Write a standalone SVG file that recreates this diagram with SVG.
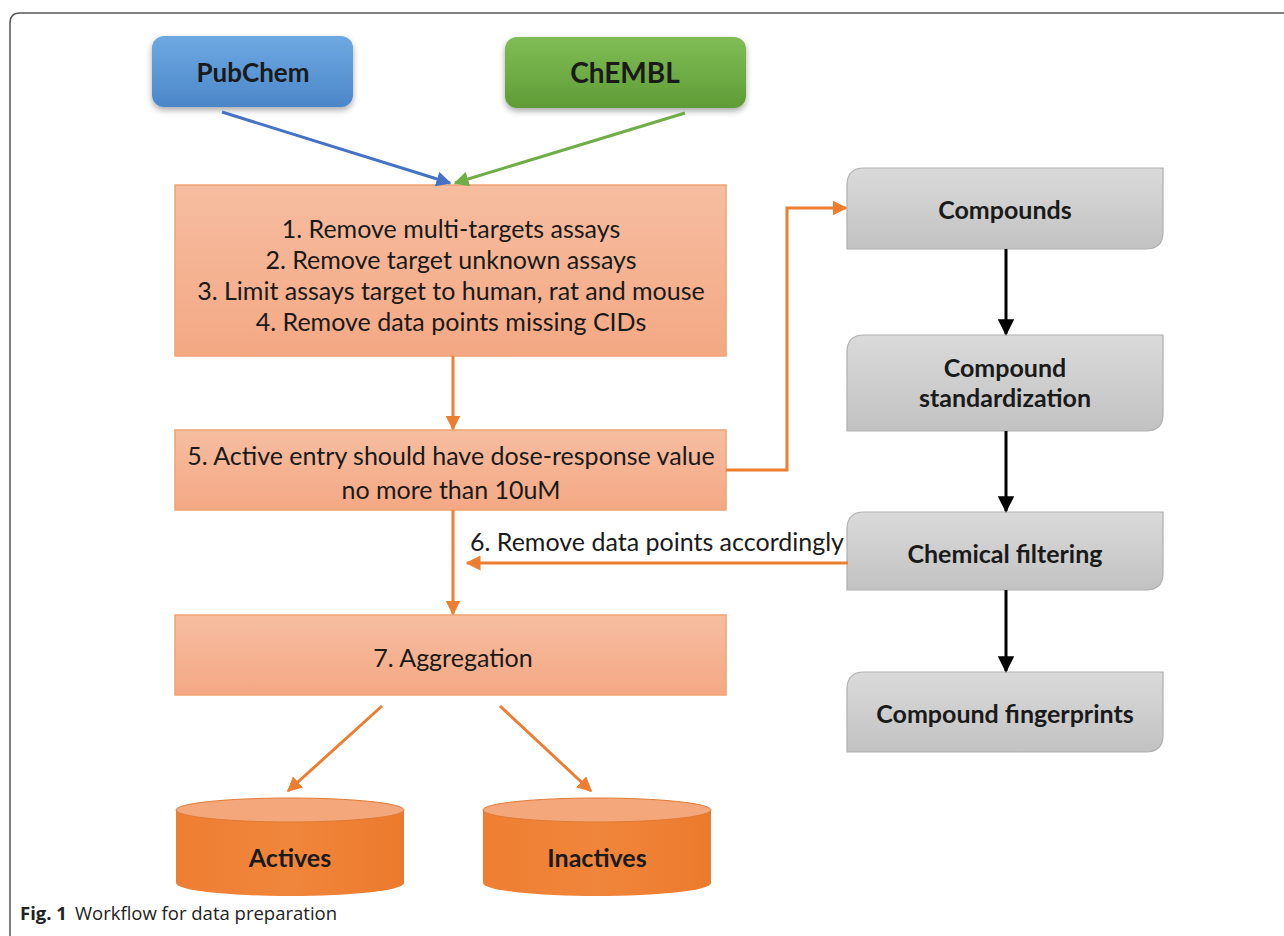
<svg xmlns="http://www.w3.org/2000/svg" width="1284" height="936" viewBox="0 0 1284 936">
<defs>
<linearGradient id="gBlue" x1="0" y1="0" x2="0" y2="1"><stop offset="0" stop-color="#6ea9e2"/><stop offset="1" stop-color="#4b87c9"/></linearGradient>
<linearGradient id="gGreen" x1="0" y1="0" x2="0" y2="1"><stop offset="0" stop-color="#80bd55"/><stop offset="1" stop-color="#5f9c36"/></linearGradient>
<linearGradient id="gSalmon" x1="0" y1="0" x2="0" y2="1"><stop offset="0" stop-color="#f6bda0"/><stop offset="1" stop-color="#f4a884"/></linearGradient>
<linearGradient id="gGrey" x1="0" y1="0" x2="0" y2="1"><stop offset="0" stop-color="#dadada"/><stop offset="1" stop-color="#c2c2c2"/></linearGradient>
<linearGradient id="gCyl" x1="0" y1="0" x2="1" y2="0"><stop offset="0" stop-color="#ee7e32"/><stop offset="0.5" stop-color="#f0863b"/><stop offset="1" stop-color="#ec7a2d"/></linearGradient>
<filter id="shadow" x="-10%" y="-10%" width="120%" height="140%"><feGaussianBlur in="SourceAlpha" stdDeviation="3"/><feOffset dy="3"/><feComponentTransfer><feFuncA type="linear" slope="0.35"/></feComponentTransfer><feMerge><feMergeNode/><feMergeNode in="SourceGraphic"/></feMerge></filter>
<marker id="aOr" viewBox="0 0 10 10" refX="9" refY="5" markerWidth="5" markerHeight="5" markerUnits="strokeWidth" orient="auto"><path d="M0,0 L10,5 L0,10 z" fill="#ed7d31"/></marker>
<marker id="aBk" viewBox="0 0 10 10" refX="9" refY="5" markerWidth="5.5" markerHeight="5.5" markerUnits="strokeWidth" orient="auto"><path d="M0,0 L10,5 L0,10 z" fill="#000"/></marker>
<marker id="aBl" viewBox="0 0 10 10" refX="9" refY="5" markerWidth="5" markerHeight="5" markerUnits="strokeWidth" orient="auto"><path d="M0,0 L10,5 L0,10 z" fill="#4472c4"/></marker>
<marker id="aGr" viewBox="0 0 10 10" refX="9" refY="5" markerWidth="5" markerHeight="5" markerUnits="strokeWidth" orient="auto"><path d="M0,0 L10,5 L0,10 z" fill="#70ad47"/></marker>
</defs>
<style>
.t{font-family:Lato,"Liberation Sans",sans-serif;fill:#1a1a1a;text-anchor:middle;dominant-baseline:central;font-size:25px}
.b{font-weight:bold}
.salmon{fill:url(#gSalmon);stroke:#f0a273;stroke-width:1.5}
.grey{fill:url(#gGrey);stroke:#b0b0b0;stroke-width:1.2}
.oc{stroke:#ed7d31;stroke-width:3;fill:none;marker-end:url(#aOr)}
.bc{stroke:#000;stroke-width:3;fill:none;marker-end:url(#aBk)}
</style>
<rect width="1284" height="936" fill="#fff"/>
<path d="M10,945 V23 Q10,13 20,13 H1290" fill="none" stroke="#555" stroke-width="1.5"/>

<g id="pubchem"><rect x="152" y="36" width="201" height="71" rx="12" fill="url(#gBlue)" filter="url(#shadow)"/><text class="t b" x="253" y="72" style="font-size:26px">PubChem</text></g>
<g id="chembl"><rect x="505" y="37" width="241" height="71" rx="12" fill="url(#gGreen)" filter="url(#shadow)"/><text class="t b" x="625" y="72" style="font-size:28px">ChEMBL</text></g>

<g id="step1-4"><rect class="salmon" x="175" y="185" width="551" height="171"/>
<text class="t" x="451" y="228">1. Remove multi-targets assays</text>
<text class="t" x="451" y="259">2. Remove target unknown assays</text>
<text class="t" x="451" y="290">3. Limit assays target to human, rat and mouse</text>
<text class="t" x="451" y="321">4. Remove data points missing CIDs</text></g>

<g id="step5"><rect class="salmon" x="175" y="430" width="551" height="80"/>
<text class="t" x="451" y="455">5. Active entry should have dose-response value</text>
<text class="t" x="451" y="489">no more than 10uM</text></g>

<g id="step7"><rect class="salmon" x="175" y="615" width="551" height="80"/>
<text class="t" x="453" y="657">7. Aggregation</text></g>

<g id="compounds"><path class="grey" d="M864,168 H1163 V232 Q1163,249 1146,249 H847 V185 Q847,168 864,168 Z"/><text class="t b" x="1005" y="209">Compounds</text></g>
<g id="standardization"><path class="grey" d="M864,335 H1163 V414 Q1163,431 1146,431 H847 V352 Q847,335 864,335 Z"/><text class="t b" x="1005" y="367">Compound</text><text class="t b" x="1005" y="397">standardization</text></g>
<g id="filtering"><path class="grey" d="M864,512 H1163 V573 Q1163,590 1146,590 H847 V529 Q847,512 864,512 Z"/><text class="t b" x="1005" y="553">Chemical filtering</text></g>
<g id="fingerprints"><path class="grey" d="M864,672 H1163 V735 Q1163,752 1146,752 H847 V689 Q847,672 864,672 Z"/><text class="t b" x="1005" y="713">Compound fingerprints</text></g>

<g id="actives"><path d="M176,810 V883 A114,13 0 0 0 404,883 V810 Z" fill="url(#gCyl)"/><ellipse cx="290" cy="810" rx="114" ry="12" fill="#f4a77a" stroke="#e07a35" stroke-width="1"/><text class="t b" x="290" y="857">Actives</text></g>
<g id="inactives"><path d="M483,810 V883 A114,13 0 0 0 711,883 V810 Z" fill="url(#gCyl)"/><ellipse cx="597" cy="810" rx="114" ry="12" fill="#f4a77a" stroke="#e07a35" stroke-width="1"/><text class="t b" x="597" y="857">Inactives</text></g>

<g id="connectors">
<line x1="222" y1="112" x2="450" y2="183" stroke="#4472c4" stroke-width="3" marker-end="url(#aBl)"/>
<line x1="685" y1="113" x2="455" y2="183" stroke="#70ad47" stroke-width="3" marker-end="url(#aGr)"/>
<line class="oc" x1="453" y1="356" x2="453" y2="429"/>
<path class="oc" d="M726,470 H787 V208 H846"/>
<line class="oc" x1="453" y1="510" x2="453" y2="614"/>
<line class="oc" x1="848" y1="563" x2="467" y2="563"/>
<text class="t" x="657" y="541">6. Remove data points accordingly</text>
<line class="bc" x1="1006" y1="249" x2="1006" y2="334"/>
<line class="bc" x1="1006" y1="431" x2="1006" y2="511"/>
<line class="bc" x1="1006" y1="590" x2="1006" y2="671"/>
<line class="oc" x1="382" y1="706" x2="288" y2="791"/>
<line class="oc" x1="500" y1="706" x2="591" y2="791"/>
</g>

<text x="20" y="920" font-family="'Open Sans','Noto Sans',sans-serif" font-size="18.5" fill="#222"><tspan font-weight="bold">Fig. 1</tspan><tspan dx="8">Workflow for data preparation</tspan></text>
</svg>
